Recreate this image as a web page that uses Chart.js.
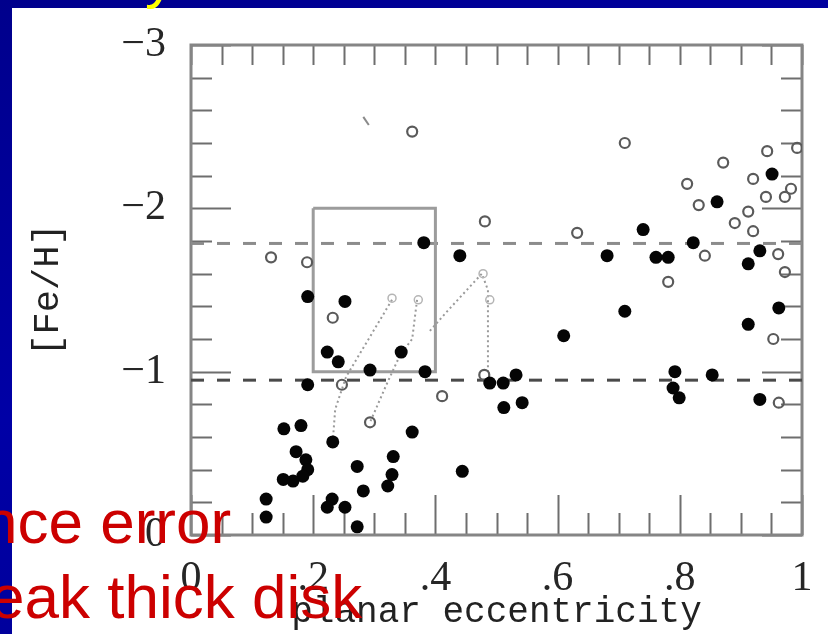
<!DOCTYPE html>
<html>
<head>
<meta charset="utf-8">
<script src="https://cdn.jsdelivr.net/npm/chart.js@4"></script>
<style>
  html, body { margin: 0; padding: 0; }
  body {
    width: 828px; height: 634px; overflow: hidden; position: relative;
    background: linear-gradient(160deg, #00008c 0%, #0000a6 45%, #000090 100%);
  }
  #paper { position: absolute; left: 12px; top: 8px; right: 0; bottom: 0; background: #fff; }
  #plot { position: absolute; left: 0; top: 0; }
  .note { position: absolute; font-family: "Liberation Sans", Arial, sans-serif; font-size: 62px;
          line-height: 62px; color: #cc0000; white-space: nowrap; }
  .head { position: absolute; font-family: "Liberation Sans", Arial, sans-serif; font-size: 60px;
          line-height: 60px; color: #ffff00; white-space: nowrap; }
</style>
</head>
<body>
<div id="paper"></div>
<canvas id="plot" width="828" height="634"></canvas>
<div class="head" style="left:145px; top:-53px;">y</div>
<div class="note" style="left:-17px; top:491px;">nce error</div>
<div class="note" style="left:-10px; top:566px;">eak thick disk</div>
<script>
// planar eccentricity vs [Fe/H]
const filledEcc = [0.381,0.440,0.191,0.252,0.223,0.241,0.344,0.293,0.383,0.191,
  0.152,0.180,0.362,0.232,0.172,0.188,0.191,0.183,0.167,0.151,
  0.272,0.331,0.329,0.322,0.444,0.282,0.123,0.123,0.231,0.223,
  0.252,0.272,0.489,0.511,0.532,0.512,0.542,0.610,0.710,0.681,
  0.740,0.761,0.781,0.822,0.861,0.951,0.931,0.912,0.962,0.912,
  0.792,0.789,0.799,0.853,0.931];
const filledFeH = [-1.79,-1.71,-1.46,-1.43,-1.12,-1.06,-1.12,-1.01,-1.00,-0.92,
  -0.65,-0.67,-0.63,-0.57,-0.51,-0.46,-0.40,-0.36,-0.33,-0.34,
  -0.42,-0.48,-0.37,-0.30,-0.39,-0.27,-0.22,-0.11,-0.22,-0.17,
  -0.17,-0.05,-0.93,-0.93,-0.98,-0.78,-0.81,-1.22,-1.37,-1.71,
  -1.87,-1.70,-1.70,-1.79,-2.04,-2.21,-1.74,-1.66,-1.39,-1.29,
  -1.00,-0.90,-0.84,-0.98,-0.83];

const openEcc = [0.362,0.481,0.131,0.190,0.232,0.247,0.293,0.411,0.480,0.632,
  0.710,0.781,0.812,0.831,0.841,0.871,0.920,0.943,0.992,0.941,
  0.972,0.982,0.912,0.890,0.920,0.961,0.972,0.953,0.962];
const openFeH = [-2.47,-1.92,-1.70,-1.67,-1.33,-0.92,-0.69,-0.85,-0.98,-1.85,
  -2.40,-1.55,-2.15,-2.02,-1.71,-2.28,-2.18,-2.35,-2.37,-2.07,
  -2.07,-2.12,-1.98,-1.91,-1.86,-1.72,-1.61,-1.20,-0.81];

// faint symbols at the ends of the dotted connectors
const faintEcc = [0.329,0.372,0.478,0.489];
const faintFeH = [-1.45,-1.44,-1.60,-1.44];

// dotted connectors
const path1Ecc = [0.329,0.254,0.236,0.232];
const path1FeH = [-1.44,-0.97,-0.77,-0.57];
const path2Ecc = [0.370,0.362,0.342,0.321,0.293];
const path2FeH = [-1.44,-1.20,-1.10,-0.93,-0.69];
const path3Ecc = [0.391,0.417,0.476,0.486,0.486];
const path3FeH = [-1.25,-1.36,-1.60,-1.50,-1.00];

// box
const boxEcc = [0.2,0.4,0.4,0.2,0.2];
const boxFeH = [-2,-2,-1,-1,-2];

// dashed metallicity cuts
const cutLevels = [-1.785,-0.948];
const cutRange = [0,1];

// stray mark
const markEcc = [0.282,0.291];
const markFeH = [-2.56,-2.51];

const xTickValues = [0,0.2,0.4,0.6,0.8,1];
const xTickLabels = ['0','.2','.4','.6','.8','1'];
const yTickValues = [-3,-2,-1,0];
const yTickLabels = ['\u22123','\u22122','\u22121','0'];

function pts(xs, ys) { return xs.map((v, i) => ({x: v, y: ys[i]})); }

const frameTicks = {
  id: 'frameTicks',
  beforeDatasetsDraw(chart) {
    const {ctx, chartArea: a, scales: {x, y}} = chart;
    ctx.save();
    ctx.strokeStyle = '#6e6e6e';
    ctx.lineWidth = 2;
    ctx.beginPath();
    for (let k = 0; k <= 20; k++) {
      const v = k * 0.05;
      const px = Math.round(x.getPixelForValue(v)) + 0.5;
      const len = (k % 4 === 0) ? 40 : 22;
      ctx.moveTo(px, a.bottom); ctx.lineTo(px, a.bottom - len);
      ctx.moveTo(px, a.top); ctx.lineTo(px, a.top + 20);
    }
    for (let k = 0; k <= 15; k++) {
      const v = -3 + k * 0.2;
      const py = Math.round(y.getPixelForValue(v)) + 0.5;
      const len = (k % 5 === 0) ? 40 : 21;
      ctx.moveTo(a.left, py); ctx.lineTo(a.left + len, py);
      ctx.moveTo(a.right, py); ctx.lineTo(a.right - len, py);
    }
    ctx.stroke();
    ctx.strokeStyle = '#858585';
    ctx.lineWidth = 3;
    ctx.strokeRect(a.left, a.top, a.right - a.left, a.bottom - a.top);
    ctx.restore();
  }
};

const datasets = [
  {
    label: 'filled', data: pts(filledEcc, filledFeH), order: 1,
    pointRadius: 6.5, pointHoverRadius: 6.5, pointBackgroundColor: '#050505', pointBorderWidth: 0
  },
  {
    label: 'open', data: pts(openEcc, openFeH), order: 2,
    pointRadius: 5, pointHoverRadius: 5, pointBackgroundColor: 'rgba(255,255,255,0)',
    pointBorderColor: '#5a5a5a', pointBorderWidth: 2.2
  },
  {
    label: 'faint', data: pts(faintEcc, faintFeH), order: 3,
    pointRadius: 4, pointHoverRadius: 4, pointBackgroundColor: 'rgba(255,255,255,0)',
    pointBorderColor: '#b5b5b5', pointBorderWidth: 1.5
  },
  ...[[path1Ecc, path1FeH], [path2Ecc, path2FeH], [path3Ecc, path3FeH]].map(p => ({
    label: 'path', data: pts(p[0], p[1]), order: 6, showLine: true,
    borderColor: '#9a9a9a', borderWidth: 2, borderDash: [2, 3], pointRadius: 0
  })),
  {
    label: 'box', data: pts(boxEcc, boxFeH), order: 5, showLine: true,
    borderColor: '#9c9c9c', borderWidth: 3, pointRadius: 0
  },
  {
    label: 'cut1', data: pts(cutRange, [cutLevels[0], cutLevels[0]]), order: 7, showLine: true,
    borderColor: '#8c8c8c', borderWidth: 3, borderDash: [13, 13], pointRadius: 0
  },
  {
    label: 'cut2', data: pts(cutRange, [cutLevels[1], cutLevels[1]]), order: 7, showLine: true,
    borderColor: '#4a4a4a', borderWidth: 3, borderDash: [13, 13], pointRadius: 0
  },
  {
    label: 'mark', data: pts(markEcc, markFeH), order: 8, showLine: true,
    borderColor: '#8a8a8a', borderWidth: 2, pointRadius: 0
  }
];

new Chart(document.getElementById('plot'), {
  type: 'scatter',
  data: { datasets: datasets },
  options: {
    responsive: false,
    animation: false,
    events: [],
    layout: { padding: { left: 0, top: 45, right: 26, bottom: 0 } },
    plugins: { legend: { display: false }, tooltip: { enabled: false } },
    scales: {
      x: {
        type: 'linear', min: 0, max: 1,
        afterFit: s => { s.height = 99; },
        afterBuildTicks: s => { s.ticks = xTickValues.map(v => ({value: v})); },
        grid: { display: false }, border: { display: false },
        ticks: {
          padding: 11, color: '#262626', maxRotation: 0, autoSkip: false,
          font: { family: 'Liberation Serif', size: 42 },
          callback: v => xTickLabels[xTickValues.indexOf(v)]
        },
        title: {
          display: true, text: 'planar eccentricity', color: '#222',
          font: { family: 'Liberation Mono', size: 36 }, padding: { top: 0, bottom: 0 }
        }
      },
      y: {
        type: 'linear', min: -3, max: 0, reverse: true,
        afterFit: s => { s.width = 191; },
        afterBuildTicks: s => { s.ticks = yTickValues.map(v => ({value: v})); },
        grid: { display: false }, border: { display: false },
        ticks: {
          padding: 17, color: '#262626', autoSkip: false,
          font: { family: 'Liberation Serif', size: 42 },
          callback: v => yTickLabels[yTickValues.indexOf(v)]
        },
        title: {
          display: true, text: '[Fe/H]', color: '#222',
          font: { family: 'Liberation Mono', size: 37 }, padding: { top: 26, bottom: 0 }
        }
      }
    }
  },
  plugins: [frameTicks]
});
</script>
</body>
</html>
